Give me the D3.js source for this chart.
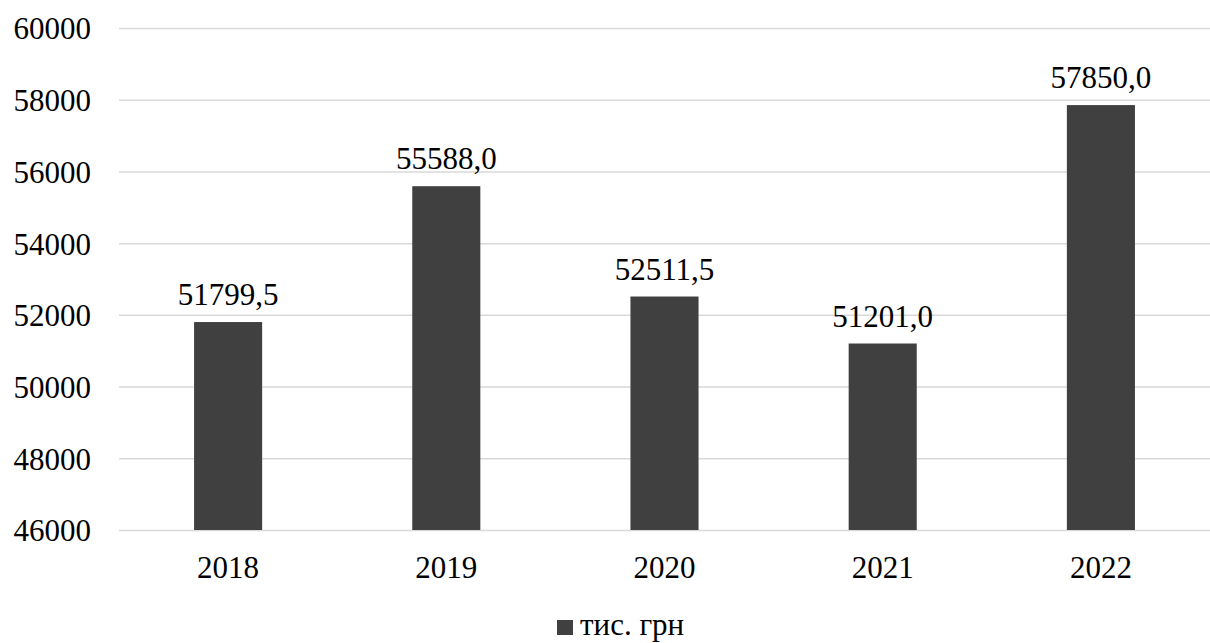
<!DOCTYPE html>
<html>
<head>
<meta charset="utf-8">
<script src="https://cdn.jsdelivr.net/npm/d3@7"></script>
<style>
    body { margin: 0; background: #fff; }
    svg text { font-family: 'Liberation Serif', 'Times New Roman', Tinos, 'DejaVu Serif', serif; fill: #000; }
</style>
</head>
<body>
<svg width="1210" height="643"></svg>
<script>
//  Chart data
const years = ['2018', '2019', '2020', '2021', '2022'];
const values = [51799.5, 55588.0, 52511.5, 51201.0, 57850.0];
const yTicks = [46000, 48000, 50000, 52000, 54000, 56000, 58000, 60000];
const seriesName = 'тис. грн';

const svg = d3.select('svg');
const margin = { top: 28, left: 119, right: 0, bottom: 113 };
const width = 1210;
const height = 643;
const fontSize = 31;
const fontFamily = "'Liberation Serif', 'Times New Roman', Tinos, 'DejaVu Serif', serif";
const barColor = '#404040';

//  Scales
const xScale = d3.scaleBand()
    .domain(years)
    .range([margin.left, width - margin.right])
    .paddingInner(0.688)
    .paddingOuter(0.344);

const yScale = d3.scaleLinear()
    .domain([46000, 60000])
    .range([height - margin.bottom, margin.top]);

//  Y axis with gridlines
const yAxis = d3.axisLeft(yScale)
    .tickValues(yTicks)
    .tickFormat(d3.format('d'))
    .tickSizeInner(-(width - margin.left - margin.right))
    .tickSizeOuter(0)
    .tickPadding(28);

const yAxisGroup = svg.append('g')
    .attr('transform', `translate(${margin.left},0)`)
    .call(yAxis)
    .attr('font-family', fontFamily);

yAxisGroup.select('.domain').remove();
yAxisGroup.selectAll('.tick line')
    .attr('stroke', '#d9d9d9')
    .attr('stroke-width', 1.5);
yAxisGroup.selectAll('.tick text')
    .attr('font-size', fontSize)
    .attr('dy', '0.35em');

//  X axis labels
const xAxis = d3.axisBottom(xScale)
    .tickSize(0)
    .tickPadding(0);

const xAxisGroup = svg.append('g')
    .attr('transform', `translate(0,${height - margin.bottom})`)
    .call(xAxis)
    .attr('font-family', fontFamily);

xAxisGroup.select('.domain').remove();
xAxisGroup.selectAll('.tick text')
    .attr('font-size', fontSize)
    .attr('y', 48)
    .attr('dy', 0);

//  Bars
const data = years.map((y, i) => ({ year: y, value: values[i] }));

svg.append('g')
    .selectAll('rect')
    .data(data)
    .enter()
    .append('rect')
    .attr('x', d => xScale(d.year))
    .attr('y', d => yScale(d.value))
    .attr('width', xScale.bandwidth())
    .attr('height', d => yScale(46000) - yScale(d.value))
    .attr('fill', barColor);

//  Value labels
svg.append('g')
    .selectAll('text')
    .data(data)
    .enter()
    .append('text')
    .attr('x', d => xScale(d.year) + xScale.bandwidth() / 2)
    .attr('y', d => yScale(d.value) - 17)
    .attr('text-anchor', 'middle')
    .attr('font-size', fontSize)
    .text(d => d.value.toFixed(1).replace('.', ','));

//  Legend
const legend = svg.append('g');

legend.append('rect')
    .attr('x', 557)
    .attr('y', 620)
    .attr('width', 16)
    .attr('height', 15)
    .attr('fill', barColor);

legend.append('text')
    .attr('x', 580)
    .attr('y', 635)
    .attr('font-size', fontSize)
    .text(seriesName);
</script>
</body>
</html>
